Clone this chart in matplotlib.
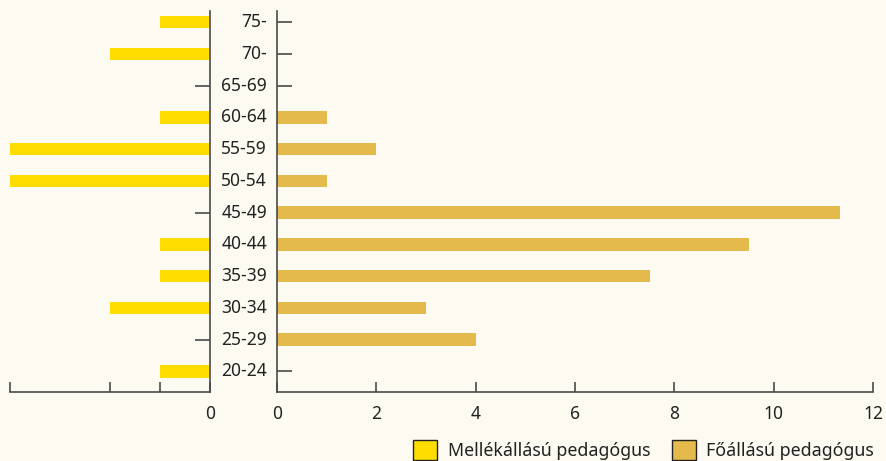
import numpy as np
import matplotlib
matplotlib.use("Agg")
import matplotlib.pyplot as plt
from matplotlib.patches import Patch

plt.rcParams["font.family"] = ["Noto Sans", "DejaVu Sans"]

# korcsoportok alulról felfelé
korcsoportok = ["20-24", "25-29", "30-34", "35-39", "40-44", "45-49",
                "50-54", "55-59", "60-64", "65-69", "70-", "75-"]
mellekallasu = [1, 0, 2, 1, 1, 0, 4, 4, 1, 0, 2, 1]
foallasu = [0, 4, 3, 7.5, 9.5, 11.33, 1, 2, 1, 0, 0, 0]

bg = "#fdfaf2"
sarga = "#ffdd00"
arany = "#e3ba4b"
vonal = "#4a4a4a"
szoveg = "#222222"

fig = plt.figure(figsize=(8.86, 4.61), dpi=100, facecolor=bg)
ax_l = fig.add_axes([10/886, 1-392/461, 200/886, 381/461], facecolor=bg)
ax_r = fig.add_axes([277/886, 1-392/461, 596/886, 381/461], facecolor=bg)

y = np.arange(len(korcsoportok))

# ========================
# Bal oldal - mellékállású
# ========================
ax_l.barh(y, mellekallasu, height=0.4, color=sarga, zorder=2)
ax_l.set_xlim(4, 0)
ax_l.set_ylim(-0.65, len(korcsoportok) - 0.65)
ax_l.set_xticks([0, 1, 2, 4])
ax_l.set_xticklabels(["0", "", "", ""])
ax_l.yaxis.tick_right()
ax_l.set_yticks(y)
ax_l.set_yticklabels([])
for s in ["top", "left"]:
    ax_l.spines[s].set_visible(False)
for s in ["right", "bottom"]:
    ax_l.spines[s].set_color(vonal)
    ax_l.spines[s].set_linewidth(1.2)
ax_l.tick_params(axis="y", direction="in", length=11, width=1.2, color=vonal)
ax_l.tick_params(axis="x", direction="in", length=7, width=1.2, color=vonal,
                 labelsize=12.5, pad=9, labelcolor=szoveg)
ax_l.set_axisbelow(True)

# ========================
# Jobb oldal - főállású
# ========================
ax_r.barh(y, foallasu, height=0.4, color=arany, zorder=2)
ax_r.set_xlim(0, 12)
ax_r.set_ylim(-0.65, len(korcsoportok) - 0.65)
ax_r.set_xticks(range(0, 13, 2))
ax_r.set_yticks(y)
ax_r.set_yticklabels([])
for s in ["top", "right"]:
    ax_r.spines[s].set_visible(False)
for s in ["left", "bottom"]:
    ax_r.spines[s].set_color(vonal)
    ax_r.spines[s].set_linewidth(1.2)
ax_r.tick_params(axis="y", direction="in", length=11, width=1.2, color=vonal)
ax_r.tick_params(axis="x", direction="in", length=7, width=1.2, color=vonal,
                 labelsize=12.5, pad=9, labelcolor=szoveg)
ax_r.set_axisbelow(True)

# korcsoport feliratok a két panel között
for yi, nev in zip(y, korcsoportok):
    ax_r.annotate(nev, xy=(0, yi), xycoords=("axes fraction", "data"),
                  xytext=(-10, 0), textcoords="offset pixels",
                  ha="right", va="center", fontsize=12.5, color=szoveg)

handles = [Patch(facecolor=sarga, edgecolor=szoveg, label="Mellékállású pedagógus"),
           Patch(facecolor=arany, edgecolor=szoveg, label="Főállású pedagógus")]
fig.legend(handles=handles, loc="lower right", bbox_to_anchor=(874/886, 1/461),
           ncol=2, frameon=False, fontsize=12.8, handlelength=1.35,
           handleheight=1.35, handletextpad=0.6, columnspacing=1.2,
           borderpad=0, borderaxespad=0, labelcolor=szoveg)

fig.savefig("out.png", dpi=100, facecolor=bg)
